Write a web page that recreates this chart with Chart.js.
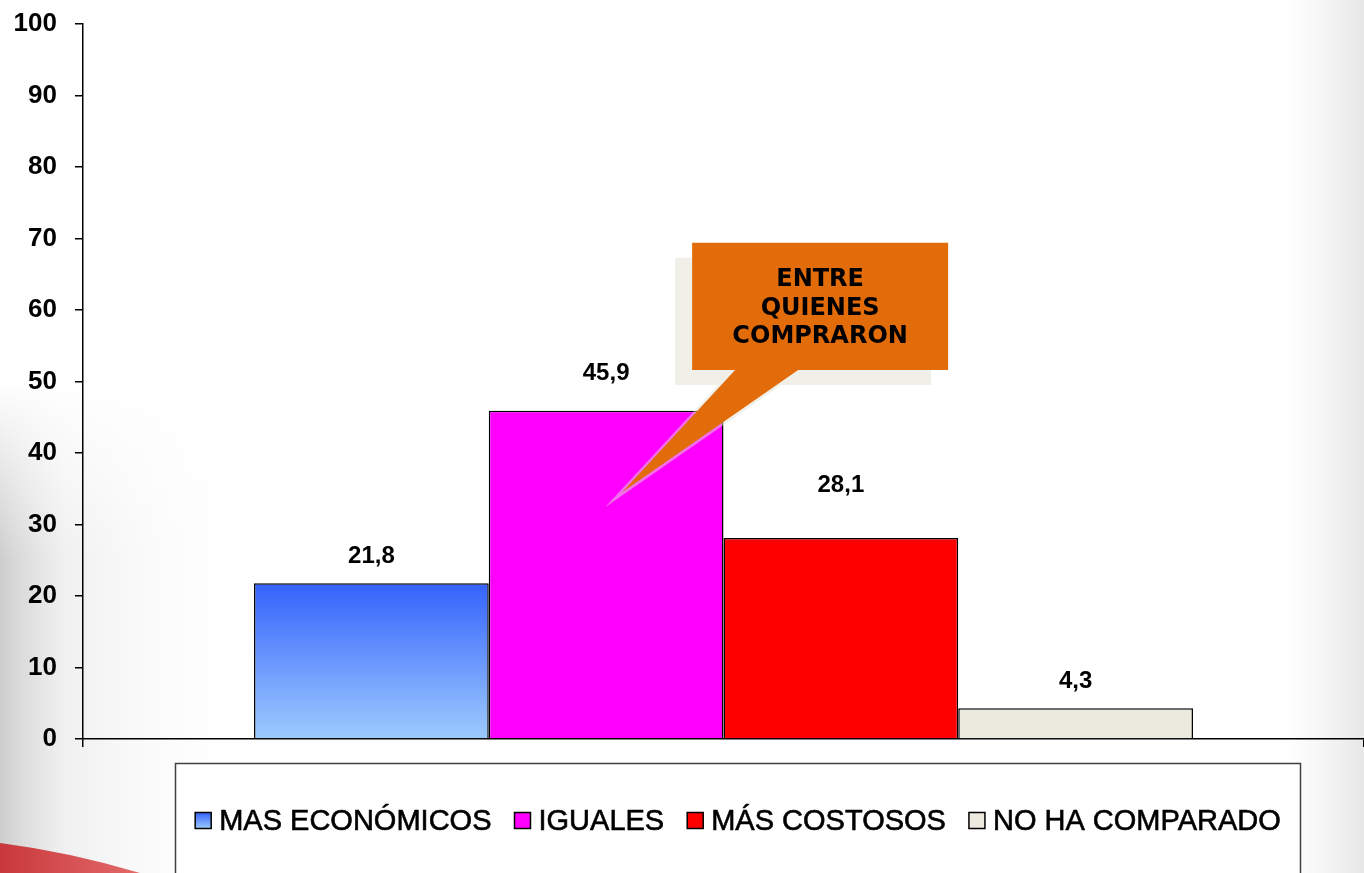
<!DOCTYPE html>
<html>
<head>
<meta charset="utf-8">
<script src="https://cdn.jsdelivr.net/npm/chart.js@4.4.1/dist/chart.umd.min.js"></script>
<style>
  html, body { margin: 0; padding: 0; background: #fff; }
  canvas { display: block; }
</style>
</head>
<body>
<canvas id="myChart" width="1364" height="873"></canvas>
<script>
// chart values
const categories = [''];
const seriesLabels = ['MAS ECONÓMICOS', 'IGUALES', 'MÁS COSTOSOS', 'NO HA COMPARADO'];
const seriesValues = [21.8, 45.9, 28.1, 4.3];
const seriesColors = ['blue-gradient', '#ff00ff', '#ff0000', '#ece9de'];
const calloutLines = ['ENTRE', 'QUIENES', 'COMPRARON'];
// how far above each bar its value label sits (px)
const labelLift = [27, 37, 53, 27];

const yMin = 0, yMax = 100, yStep = 10;
const FONT = '"Liberation Sans", Arial, sans-serif';

function blueGradient(ctx, top, bottom) {
	const g = ctx.createLinearGradient(0, top, 0, bottom);
	g.addColorStop(0, '#3462fb');
	g.addColorStop(0.55, '#6f9cfd');
	g.addColorStop(1, '#9ccbfe');
	return g;
}

function fillFor(i, ctx, top, bottom) {
	if (seriesColors[i] == 'blue-gradient') return blueGradient(ctx, top, bottom);
	return seriesColors[i];
}

// slide-like background: grey edges and a red swoosh bottom left
const backgroundPlugin = {
	id: 'slideBg',
	beforeDraw(chart) {
		const { ctx, width, height } = chart;
		ctx.save();
		ctx.fillStyle = '#ffffff';
		ctx.fillRect(0, 0, width, height);

		let g = ctx.createLinearGradient(0, 0, 260, 0);
		g.addColorStop(0, 'rgba(200,200,200,0.9)');
		g.addColorStop(0.25, 'rgba(225,225,225,0.5)');
		g.addColorStop(1, 'rgba(255,255,255,0)');
		ctx.fillStyle = g;
		ctx.fillRect(0, 380, 260, height - 380);
		g = ctx.createLinearGradient(0, 380, 0, 560);
		g.addColorStop(0, 'rgba(255,255,255,1)');
		g.addColorStop(1, 'rgba(255,255,255,0)');
		ctx.fillStyle = g;
		ctx.fillRect(0, 380, 260, 180);

		g = ctx.createLinearGradient(width - 80, 0, width, 0);
		g.addColorStop(0, 'rgba(235,235,235,0)');
		g.addColorStop(1, 'rgba(225,225,225,0.8)');
		ctx.fillStyle = g;
		ctx.fillRect(width - 80, 0, 80, height);

		// red swoosh
		ctx.beginPath();
		ctx.moveTo(0, 843);
		ctx.quadraticCurveTo(70, 852, 140, height);
		ctx.lineTo(0, height);
		ctx.closePath();
		g = ctx.createLinearGradient(0, 0, 140, 0);
		g.addColorStop(0, '#c8383c');
		g.addColorStop(1, '#e46a6a');
		ctx.fillStyle = g;
		ctx.fill();
		ctx.restore();
	}
};

// value labels with decimal comma
const valueLabelPlugin = {
	id: 'valueLabels',
	afterDatasetsDraw(chart) {
		const ctx = chart.ctx;
		ctx.save();
		ctx.font = 'bold 24px ' + FONT;
		ctx.fillStyle = '#000';
		ctx.textAlign = 'center';
		ctx.textBaseline = 'middle';
		chart.data.datasets.forEach((ds, i) => {
			const bar = chart.getDatasetMeta(i).data[0];
			ctx.fillText(ds.data[0].toFixed(1).replace('.', ','), bar.x, bar.y - labelLift[i]);
		});
		ctx.restore();
	}
};

// orange callout pointing into the IGUALES bar
const calloutPlugin = {
	id: 'callout',
	afterDatasetsDraw(chart) {
		const ctx = chart.ctx;
		const y = chart.scales.y;
		const bar = chart.getDatasetMeta(1).data[0];
		const left = bar.x + 86, right = bar.x + 342;
		const top = y.getPixelForValue(69.4), bottom = y.getPixelForValue(51.6);
		const tipX = bar.x + 16, tipY = y.getPixelForValue(34.5);

		function shape(dx, dy) {
			ctx.beginPath();
			ctx.moveTo(left + dx, top + dy);
			ctx.lineTo(right + dx, top + dy);
			ctx.lineTo(right + dx, bottom + dy);
			ctx.lineTo(bar.x + 192 + dx, bottom + dy);
			ctx.lineTo(tipX + dx, tipY + dy);
			ctx.lineTo(bar.x + 129 + dx, bottom + dy);
			ctx.lineTo(left + dx, bottom + dy);
			ctx.closePath();
		}
		ctx.save();
		shape(-17, 15);
		ctx.fillStyle = 'rgba(226,226,212,0.5)';
		ctx.fill();
		shape(0, 0);
		ctx.fillStyle = '#e36c0a';
		ctx.fill();

		ctx.font = 'bold 24px "DejaVu Sans", Verdana, sans-serif';
		ctx.fillStyle = '#000';
		ctx.textAlign = 'center';
		ctx.textBaseline = 'middle';
		const cx = (left + right) / 2;
		calloutLines.forEach((t, i) => {
			ctx.fillText(t, cx, top + 37 + i * 28.5);
		});
		ctx.restore();
	}
};

// legend in a framed box under the axis
const legendBoxPlugin = {
	id: 'legendBox',
	afterDraw(chart) {
		const ctx = chart.ctx;
		const area = chart.chartArea;
		const frameL = area.left + 92.5, frameR = area.right - 63.5;
		const frameT = area.bottom + 24.5;
		ctx.save();
		ctx.fillStyle = 'rgba(255,255,255,0.85)';
		ctx.fillRect(frameL, frameT, frameR - frameL, chart.height - frameT + 10);
		ctx.strokeStyle = '#404040';
		ctx.lineWidth = 1.5;
		ctx.strokeRect(frameL, frameT, frameR - frameL, chart.height - frameT + 10);

		ctx.font = '29px ' + FONT;
		ctx.textBaseline = 'middle';
		ctx.textAlign = 'left';
		const box = 16, gapText = 8, gapItem = 23;
		let total = 0;
		const widths = seriesLabels.map(t => ctx.measureText(t).width);
		widths.forEach(w => total += box + gapText + w);
		total += gapItem * (seriesLabels.length - 1);
		let x = (frameL + frameR) / 2 - total / 2;
		const cy = frameT + 57;
		seriesLabels.forEach((t, i) => {
			ctx.fillStyle = fillFor(i, ctx, cy - box / 2, cy + box / 2);
			ctx.fillRect(x, cy - box / 2, box, box);
			ctx.strokeStyle = '#000';
			ctx.lineWidth = 1.5;
			ctx.strokeRect(x, cy - box / 2, box, box);
			ctx.fillStyle = '#000';
			ctx.fillText(t, x + box + gapText, cy + 1);
			// slight overdraw to get the heavier slide lettering
			ctx.lineWidth = 0.6;
			ctx.strokeStyle = '#000';
			ctx.strokeText(t, x + box + gapText, cy + 1);
			x += box + gapText + widths[i] + gapItem;
		});
		ctx.restore();
	}
};

const datasets = seriesLabels.map((label, i) => ({
	label: label,
	data: [seriesValues[i]],
	backgroundColor: function (context) {
		const chart = context.chart;
		if (!chart.chartArea) return '#3462fb';
		const top = chart.scales.y.getPixelForValue(seriesValues[i]);
		return fillFor(i, chart.ctx, top, chart.chartArea.bottom);
	},
	borderColor: '#000',
	borderWidth: 1.5,
	borderSkipped: 'bottom',
	barPercentage: 1,
	categoryPercentage: 0.733
}));

const ctx = document.getElementById('myChart').getContext('2d');
const myChart = new Chart(ctx, {
	type: 'bar',
	data: {
		labels: categories,
		datasets: datasets
	},
	options: {
		responsive: false,
		animation: false,
		layout: {
			padding: { top: 24, right: 0, bottom: 126, left: 0 }
		},
		plugins: {
			legend: { display: false },
			tooltip: { enabled: false }
		},
		scales: {
			x: {
				grid: {
					display: true,
					drawOnChartArea: false,
					offset: true,
					tickLength: 8,
					color: '#000',
					lineWidth: 1.5
				},
				ticks: { display: false },
				border: { color: '#000', width: 1.5 }
			},
			y: {
				min: yMin,
				max: yMax,
				ticks: {
					stepSize: yStep,
					color: '#000',
					padding: 18,
					font: { family: FONT, size: 26, weight: 'bold' }
				},
				grid: {
					drawOnChartArea: false,
					tickLength: 8,
					color: '#000',
					lineWidth: 1.5
				},
				border: { color: '#000', width: 1.5 },
				afterFit(scale) {
					scale.width = 83;
					scale.paddingTop = 0;
					scale.paddingBottom = 0;
				}
			}
		}
	},
	plugins: [backgroundPlugin, valueLabelPlugin, calloutPlugin, legendBoxPlugin]
});
</script>
</body>
</html>
